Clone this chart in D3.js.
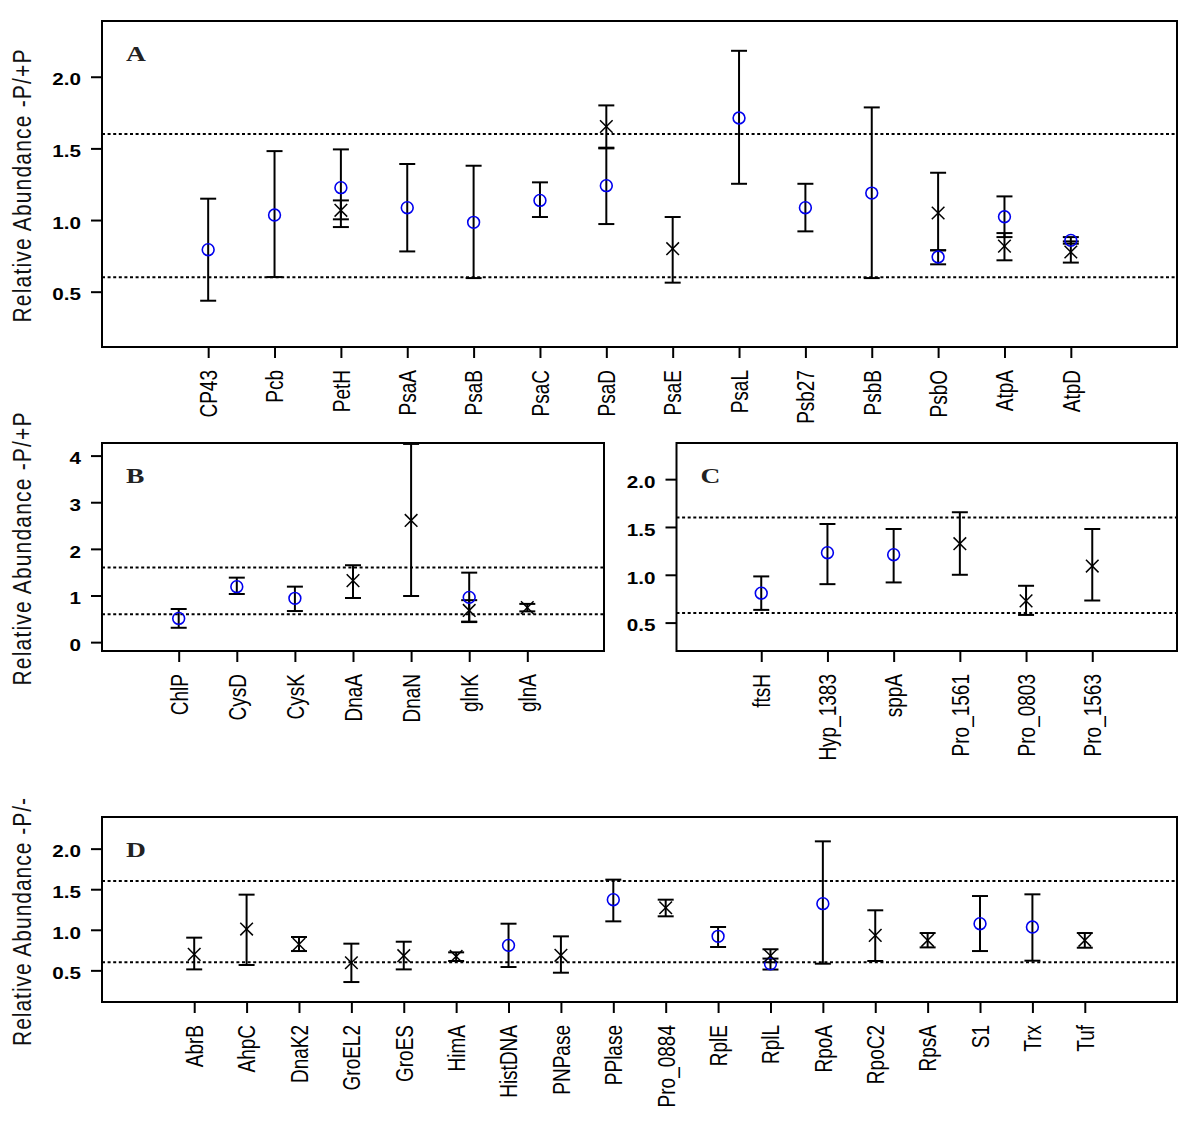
<!DOCTYPE html>
<html>
<head>
<meta charset="utf-8">
<script src="https://cdn.jsdelivr.net/npm/d3@7"></script>
<style>
  html, body { margin: 0; padding: 0; background: #fff; }
  svg { display: block; }
</style>
</head>
<body>
<svg id="chart" width="1200" height="1128"></svg>
<script>
// ---------- Panel A ----------
const catsA = ["CP43","Pcb","PetH","PsaA","PsaB","PsaC","PsaD","PsaE","PsaL","Psb27","PsbB","PsbO","AtpA","AtpD"];
const circA   = [0.793, 1.035, 1.226, 1.086, 0.984, 1.137, 1.240, null, 1.712, 1.086, 1.188, 0.742, 1.023, 0.858];
const circALo = [0.437, 0.602, 0.951, 0.781, 0.595, 1.021, 0.972, null, 1.253, 0.921, 0.595, 0.691, 0.881, 0.835];
const circAHi = [1.149, 1.481, 1.493, 1.391, 1.379, 1.263, 1.505, null, 2.181, 1.253, 1.786, 0.789, 1.165, 0.881];
const crosA   = [null, null, 1.068, null, null, null, 1.653, 0.800, null, null, null, 1.049, 0.818, 0.777];
const crosALo = [null, null, 1.005, null, null, null, 1.500, 0.563, null, null, null, 0.789, 0.719, 0.703];
const crosAHi = [null, null, 1.137, null, null, null, 1.800, 1.021, null, null, null, 1.330, 0.909, 0.851];
const ticksA = [0.5, 1.0, 1.5, 2.0];

// ---------- Panel B ----------
const catsB = ["ChlP","CysD","CysK","DnaA","DnaN","glnK","glnA"];
const circB   = [0.509, 1.190, 0.939, null, null, 0.960, null];
const circBLo = [0.308, 1.032, 0.667, null, null, 0.430, null];
const circBHi = [0.710, 1.383, 1.190, null, null, 1.490, null];
const crosB   = [null, null, null, 1.319, 2.610, 0.680, 0.740];
const crosBLo = [null, null, null, 0.946, 0.989, 0.440, 0.660];
const crosBHi = [null, null, null, 1.649, 4.250, 0.900, 0.820];
const ticksB = [0, 1, 2, 3, 4];

// ---------- Panel C ----------
const catsC = ["ftsH","Hyp_1383","sppA","Pro_1561","Pro_0803","Pro_1563"];
const circC   = [0.808, 1.231, 1.210, null, null, null];
const circCLo = [0.633, 0.902, 0.920, null, null, null];
const circCHi = [0.983, 1.531, 1.479, null, null, null];
const crosC   = [null, null, null, 1.325, 0.727, 1.091];
const crosCLo = [null, null, null, 1.000, 0.580, 0.731];
const crosCHi = [null, null, null, 1.654, 0.885, 1.479];
const ticksC = [0.5, 1.0, 1.5, 2.0];

// ---------- Panel D ----------
const catsD = ["AbrB","AhpC","DnaK2","GroEL2","GroES","HimA","HistDNA","PNPase","PPlase","Pro_0884","RplE","RplL","RpoA","RpoC2","RpsA","S1","Trx","Tuf"];
const circD   = [null, null, null, null, null, null, 0.808, null, 1.371, null, 0.919, 0.580, 1.322, null, null, 1.075, 1.034, null];
const circDLo = [null, null, null, null, null, null, 0.541, null, 1.104, null, 0.788, 0.510, 0.582, null, null, 0.738, 0.619, null];
const circDHi = [null, null, null, null, null, null, 1.075, null, 1.618, null, 1.034, 0.645, 2.090, null, null, 1.416, 1.437, null];
const crosD   = [0.697, 1.009, 0.820, 0.594, 0.681, 0.672, null, 0.685, null, 1.272, null, 0.680, null, 0.931, 0.870, null, null, 0.870];
const crosDLo = [0.512, 0.566, 0.738, 0.356, 0.512, 0.615, null, 0.471, null, 1.166, null, 0.600, null, 0.615, 0.783, null, null, 0.779];
const crosDHi = [0.903, 1.433, 0.911, 0.829, 0.853, 0.722, null, 0.919, null, 1.371, null, 0.760, null, 1.240, 0.960, null, null, 0.960];
const ticksD = [0.5, 1.0, 1.5, 2.0];

// threshold lines
const thresholds = [0.6, 1.6];

// axis titles
const yTitleP = "Relative Abundance -P/+P";
const yTitleM = "Relative Abundance -P/-";

// ---------- drawing ----------
const svg = d3.select("#chart");
svg.append("rect").attr("width", 1200).attr("height", 1128).attr("fill", "#fff");

const SX = 1.25; // horizontal stretch of the original picture
const sans = "'Liberation Sans', Arial, sans-serif";
const serif = "'Liberation Serif', 'Times New Roman', serif";

function panel(cfg) {
  const { x0, x1, y0, y1, xdom, ydom, cats, ticks, circ, circLo, circHi, cros, crosLo, crosHi, letter } = cfg;
  const x = d3.scaleLinear().domain(xdom).range([x0, x1]);
  const y = d3.scaleLinear().domain(ydom).range([y1, y0]);
  const g = svg.append("g");

  // threshold dotted lines
  g.selectAll("line.thr").data(thresholds).enter().append("line")
    .attr("x1", x0).attr("x2", x1)
    .attr("y1", d => y(d)).attr("y2", d => y(d))
    .attr("stroke", "#000").attr("stroke-width", 2)
    .attr("stroke-dasharray", "3,2.6");

  // y axis
  const ya = g.append("g").attr("transform", `translate(${x0},0)`)
    .call(d3.axisLeft(y).tickValues(ticks).tickSize(11).tickPadding(10)
      .tickFormat(d => ticks.some(t => t % 1 !== 0) ? d3.format(".1f")(d) : d3.format("d")(d)));
  ya.select(".domain").remove();
  ya.selectAll(".tick line").attr("stroke", "#000").attr("stroke-width", 2);
  ya.selectAll(".tick text")
    .attr("font-family", sans).attr("font-weight", "bold").attr("font-size", 16.5).attr("fill", "#000")
    .each(function () {
      const tx = +this.getAttribute("x");
      d3.select(this).attr("x", 0).attr("dy", "0.5em")
        .attr("transform", `translate(${tx},0) scale(${SX},1)`);
    });

  // x axis
  const xa = g.append("g").attr("transform", `translate(0,${y1})`)
    .call(d3.axisBottom(x).tickValues(d3.range(1, cats.length + 1)).tickSize(11)
      .tickFormat(i => cats[i - 1]));
  xa.select(".domain").remove();
  xa.selectAll(".tick line").attr("stroke", "#000").attr("stroke-width", 2);
  xa.selectAll(".tick text")
    .attr("font-family", sans).attr("font-size", 19).attr("fill", "#000")
    .attr("y", null).attr("dy", "0.35em").attr("text-anchor", "end")
    .attr("transform", `translate(0,23) scale(${SX},1) rotate(-90)`);

  // error bars + markers
  const capW = 8;
  function bars(mean, lo, hi) {
    const data = cats.map((c, i) => ({ i: i + 1, m: mean[i], lo: lo[i], hi: hi[i] })).filter(d => d.m !== null);
    const eb = g.append("g").attr("stroke", "#000").attr("stroke-width", 2).attr("fill", "none");
    data.forEach(d => {
      eb.append("line").attr("x1", x(d.i)).attr("x2", x(d.i)).attr("y1", y(d.lo)).attr("y2", y(d.hi));
      eb.append("line").attr("x1", x(d.i) - capW).attr("x2", x(d.i) + capW).attr("y1", y(d.lo)).attr("y2", y(d.lo));
      eb.append("line").attr("x1", x(d.i) - capW).attr("x2", x(d.i) + capW).attr("y1", y(d.hi)).attr("y2", y(d.hi));
    });
    return data;
  }
  const cd = bars(circ, circLo, circHi);
  const xd = bars(cros, crosLo, crosHi);

  g.selectAll("circle.pt").data(cd).enter().append("circle")
    .attr("cx", d => x(d.i)).attr("cy", d => y(d.m)).attr("r", 5.9)
    .attr("fill", "none").attr("stroke", "#0000ee").attr("stroke-width", 1.6);

  const hw = 6.3, hh = 6.3;
  const xg = g.append("g").attr("stroke", "#000").attr("stroke-width", 1.5);
  xd.forEach(d => {
    const cx = x(d.i), cy = y(d.m);
    xg.append("line").attr("x1", cx - hw).attr("x2", cx + hw).attr("y1", cy - hh).attr("y2", cy + hh);
    xg.append("line").attr("x1", cx - hw).attr("x2", cx + hw).attr("y1", cy + hh).attr("y2", cy - hh);
  });

  // box
  g.append("rect").attr("x", x0).attr("y", y0).attr("width", x1 - x0).attr("height", y1 - y0)
    .attr("fill", "none").attr("stroke", "#000").attr("stroke-width", 2);

  // panel letter
  g.append("text").text(letter)
    .attr("font-family", serif).attr("font-weight", "bold").attr("font-size", 22).attr("fill", "#222")
    .attr("transform", `translate(${x0 + 24},${y0 + 40}) scale(${SX},1)`);
}

panel({ x0: 102, x1: 1177, y0: 21, y1: 347, xdom: [-0.6, 15.6], ydom: [0.114, 2.389],
  cats: catsA, ticks: ticksA, circ: circA, circLo: circALo, circHi: circAHi,
  cros: crosA, crosLo: crosALo, crosHi: crosAHi, letter: "A" });
panel({ x0: 102, x1: 604, y0: 443, y1: 651, xdom: [-0.32, 8.32], ydom: [-0.19, 4.27],
  cats: catsB, ticks: ticksB, circ: circB, circLo: circBLo, circHi: circBHi,
  cros: crosB, crosLo: crosBLo, crosHi: crosBHi, letter: "B" });
panel({ x0: 676.5, x1: 1177, y0: 443, y1: 651, xdom: [-0.28, 7.28], ydom: [0.203, 2.378],
  cats: catsC, ticks: ticksC, circ: circC, circLo: circCLo, circHi: circCHi,
  cros: crosC, crosLo: crosCLo, crosHi: crosCHi, letter: "C" });
panel({ x0: 102, x1: 1177, y0: 817, y1: 1002, xdom: [-0.76, 19.76], ydom: [0.11, 2.39],
  cats: catsD, ticks: ticksD, circ: circD, circLo: circDLo, circHi: circDHi,
  cros: crosD, crosLo: crosDLo, crosHi: crosDHi, letter: "D" });

// y-axis titles
function yTitle(txt, cy, len) {
  svg.append("text").text(txt)
    .attr("font-family", sans).attr("font-size", 21).attr("fill", "#111")
    .attr("text-anchor", "middle")
    .attr("textLength", len).attr("lengthAdjust", "spacing")
    .attr("transform", `translate(31,${cy}) scale(${SX},1) rotate(-90)`);
}
yTitle(yTitleP, 186, 273);
yTitle(yTitleP, 549, 273);
yTitle(yTitleM, 922, 248);
</script>
</body>
</html>
